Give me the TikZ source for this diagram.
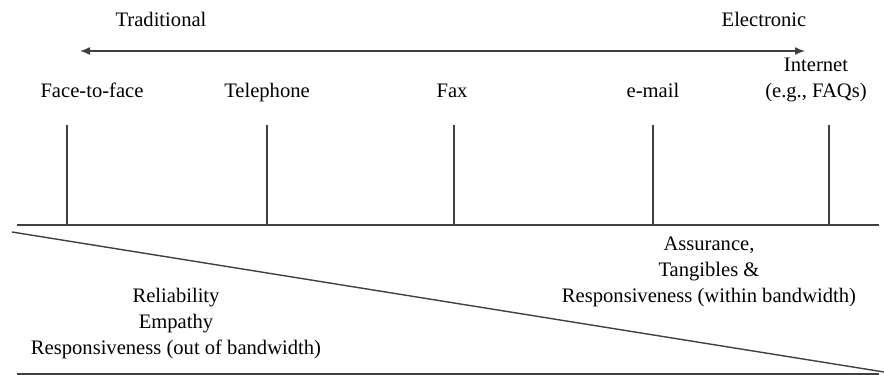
\documentclass[tikz,border=0pt]{standalone}
\usepackage{fontspec}
\setmainfont{Liberation Serif}
\usetikzlibrary{arrows.meta,positioning}

\begin{document}
\begin{tikzpicture}[x=0.5pt,y=-0.5pt,
    every node/.style={font=\fontsize{10.3}{13}\selectfont,align=center,inner sep=0pt},
    rule/.style={draw=black!75,line width=0.7pt}]
	\useasboundingbox (0,0) rectangle (884,375);
	% direction of the scale
	\node[anchor=base] (trad) at (161,26) {Traditional};
	\node[anchor=base] (elec) at (764,26) {Electronic};
	\coordinate (arrl) at (80,51);
	\coordinate (arrr) at (805,51);
	\draw[rule,{Latex[length=5pt,width=4pt]}-{Latex[length=5pt,width=4pt]}] (arrl) -- (arrr);
	% channels
	\node[anchor=base] (ff) at (92,97) {Face-to-face};
	\node[anchor=base] (tel) at (267,97) {Telephone};
	\node[anchor=base] (fax) at (452,97) {Fax};
	\node[anchor=base] (mail) at (653,97) {e-mail};
	\node[anchor=base] (net) at (816,97) {Internet\\(e.g., FAQs)};
	\foreach \x/\n in {67/ff,267/tel,454/fax,653/mail,829/net}{
		\coordinate (\n top) at (\x,125);
		\coordinate (\n bot) at (\x,225);
		\draw[rule] (\n top) -- (\n bot);
	}
	% base lines and the wedge
	\coordinate (basel) at (17,225);
	\coordinate (baser) at (879,225);
	\draw[rule] (basel) -- (baser);
	\coordinate (diagl) at (12,232);
	\coordinate (diagr) at (884,372);
	\draw[rule] (diagl) -- (diagr);
	\coordinate (botl) at (17,374);
	\coordinate (botr) at (879,374);
	\draw[rule] (botl) -- (botr);
	% dimensions
	\node[anchor=base] (elecdim) at (709,302) {Assurance,\\Tangibles \&\\Responsiveness (within bandwidth)};
	\node[anchor=base] (traddim) at (176,354) {Reliability\\Empathy\\Responsiveness (out of bandwidth)};
\end{tikzpicture}
\end{document}
